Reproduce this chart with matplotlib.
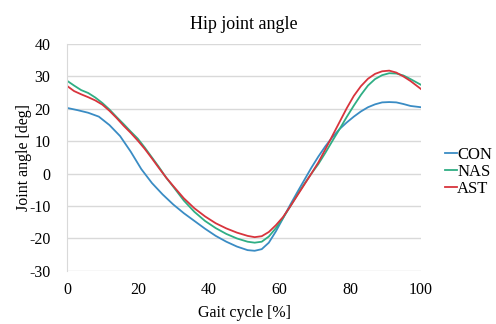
import matplotlib
matplotlib.use("Agg")
import matplotlib.pyplot as plt

# Data
x_con = [0, 3, 6, 9, 12, 15, 18, 21, 24, 27, 30, 33, 36, 39, 42, 45, 48, 51, 53, 55,
         57, 59, 61, 63, 65, 67, 69, 71, 73, 75, 77, 79, 81, 83, 85, 87, 89, 91, 93, 95, 97, 100]
con = [20.3, 19.6, 18.8, 17.6, 15.0, 11.6, 6.8, 1.4, -2.9, -6.4, -9.5, -12.2, -14.6, -17.0,
       -19.2, -21.0, -22.5, -23.6, -23.8, -23.3, -21.3, -17.8, -13.8, -9.7, -5.8, -2.0, 1.8,
       5.3, 8.5, 11.3, 13.8, 15.8, 17.6, 19.2, 20.5, 21.4, 22.0, 22.1, 22.0, 21.5, 20.9, 20.5]

x_nas = [0, 2, 4, 6, 8, 10, 12, 14, 16, 18, 20, 22, 24, 26, 28, 30, 33, 36, 39, 42, 45, 48,
         51, 53, 55, 57, 59, 61, 63, 65, 67, 69, 71, 73, 75, 77, 79, 81, 83, 85, 87, 89, 91,
         93, 95, 97, 100]
nas = [28.7, 27.2, 25.8, 24.9, 23.5, 21.8, 19.8, 17.5, 15.3, 13.0, 10.8, 8.0, 5.0, 2.0,
       -1.2, -4.0, -8.3, -11.8, -14.6, -16.8, -18.6, -20.0, -21.0, -21.3, -21.0, -19.4,
       -16.8, -13.7, -10.2, -6.6, -3.2, 0.0, 3.0, 6.5, 10.2, 13.8, 17.5, 21.0, 24.3, 27.2,
       29.2, 30.4, 31.0, 30.9, 30.3, 29.2, 27.4]

x_ast = x_nas
ast = [27.1, 25.5, 24.5, 23.6, 22.6, 21.3, 19.4, 17.2, 14.8, 12.6, 10.2, 7.6, 4.7, 1.7,
       -1.2, -3.8, -7.6, -10.7, -13.2, -15.3, -16.9, -18.2, -19.2, -19.6, -19.3, -18.0,
       -15.9, -13.4, -10.2, -6.8, -3.4, 0.0, 3.5, 7.6, 11.8, 16.0, 20.2, 24.0, 27.0, 29.3,
       30.8, 31.6, 31.8, 31.2, 30.0, 28.6, 26.1]

plt.rcParams['font.family'] = ['Liberation Serif', 'DejaVu Serif']
plt.rcParams['axes.unicode_minus'] = False

fig = plt.figure(figsize=(4.96, 3.24), dpi=100)
ax = fig.add_axes([0.135, 0.164, 0.714, 0.700])

ax.plot(x_con, con, color='#3a8cc4', lw=1.3, label='CON')
ax.plot(x_nas, nas, color='#2fae84', lw=1.3, label='NAS')
ax.plot(x_ast, ast, color='#d8343d', lw=1.3, label='AST')

ax.set_xlim(0, 100)
ax.set_ylim(-30, 40)
ax.set_xticks(range(0, 101, 20))
ax.set_yticks(range(-30, 41, 10))
ax.yaxis.grid(True, color='#d9d9d9', lw=1)
ax.set_axisbelow(True)
for s in ax.spines.values():
    s.set_visible(False)
ax.spines['left'].set_visible(True)
ax.spines['left'].set_color('#d9d9d9')
ax.tick_params(length=0, labelsize=11.5)
ax.tick_params(axis='y', pad=12)
ax.tick_params(axis='x', pad=8)

ax.set_title('Hip joint angle', fontsize=13, pad=11)
ax.set_xlabel('Gait cycle [%]', fontsize=11.5, labelpad=5)
ax.set_ylabel('Joint angle [deg]', fontsize=11.5, labelpad=-2)

fig.legend(loc='center left', bbox_to_anchor=(0.898, 0.47), frameon=False,
           fontsize=12, handlelength=0.7, handletextpad=0.0, labelspacing=0.05,
           borderpad=0, borderaxespad=0)

fig.savefig('out.png', dpi=100)
